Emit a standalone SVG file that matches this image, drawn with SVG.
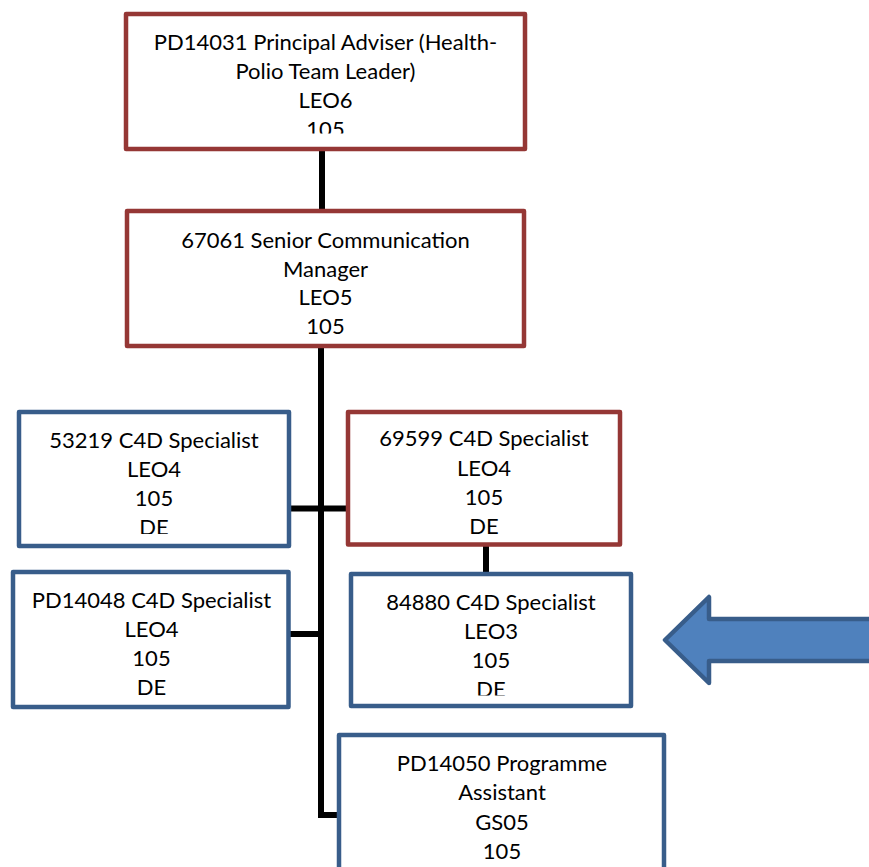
<svg xmlns="http://www.w3.org/2000/svg" width="869" height="867" viewBox="0 0 869 867">
<style>
.box{fill:#fff;stroke-width:4.5;stroke-linejoin:round}
.red{stroke:#953735}
.blue{stroke:#385D8A}
.t{font-family:Lato,"Liberation Sans",sans-serif;font-size:22px;fill:#000;text-anchor:middle}
.conn{stroke:#000;stroke-width:6;fill:none;stroke-linecap:butt}
</style>
<defs>
<clipPath id="c1"><rect x="126" y="14" width="400" height="119.5"/></clipPath>
<clipPath id="c3"><rect x="19" y="412" width="270" height="122"/></clipPath>
<clipPath id="c7"><rect x="351" y="574" width="280" height="121.5"/></clipPath>
</defs>
<rect width="869" height="867" fill="#fff"/>
<g id="connectors">
<line class="conn" x1="322" y1="149" x2="322" y2="211"/>
<polyline class="conn" points="321,346 321,815 339,815"/>
<line class="conn" x1="289" y1="508.5" x2="348" y2="508.5"/>
<line class="conn" x1="288" y1="634" x2="321" y2="634"/>
<line class="conn" x1="486" y1="544" x2="486" y2="574"/>
</g>
<g id="n1">
<rect class="box red" x="126" y="14" width="399" height="135"/>
<g clip-path="url(#c1)">
<text class="t" x="325.5" y="50">PD14031 Principal Adviser (Health-</text>
<text class="t" x="325.5" y="79">Polio Team Leader)</text>
<text class="t" x="325.5" y="108">LEO6</text>
<text class="t" x="325.5" y="137">105</text>
</g>
</g>
<g id="n2">
<rect class="box red" x="127" y="211" width="397" height="135"/>
<text class="t" x="325.5" y="248">67061 Senior Communication</text>
<text class="t" x="325.5" y="277">Manager</text>
<text class="t" x="325.5" y="305">LEO5</text>
<text class="t" x="325.5" y="334">105</text>
</g>
<g id="n3">
<rect class="box blue" x="19" y="412" width="270" height="134"/>
<g clip-path="url(#c3)">
<text class="t" x="154" y="448">53219 C4D Specialist</text>
<text class="t" x="154" y="477">LEO4</text>
<text class="t" x="154" y="506">105</text>
<text class="t" x="154" y="535">DE</text>
</g>
</g>
<g id="n4">
<rect class="box red" x="348" y="412" width="272" height="132.5"/>
<text class="t" x="484" y="446">69599 C4D Specialist</text>
<text class="t" x="484" y="476">LEO4</text>
<text class="t" x="484" y="505">105</text>
<text class="t" x="484" y="534">DE</text>
</g>
<g id="n5">
<rect class="box blue" x="13" y="572" width="275.5" height="135"/>
<text class="t" x="151.5" y="608">PD14048 C4D Specialist</text>
<text class="t" x="151.5" y="637">LEO4</text>
<text class="t" x="151.5" y="666">105</text>
<text class="t" x="151.5" y="695">DE</text>
</g>
<g id="n6">
<rect class="box blue" x="351" y="574" width="280" height="132"/>
<g clip-path="url(#c7)">
<text class="t" x="491" y="610">84880 C4D Specialist</text>
<text class="t" x="491" y="639">LEO3</text>
<text class="t" x="491" y="668">105</text>
<text class="t" x="491" y="697">DE</text>
</g>
</g>
<g id="n7">
<rect class="box blue" x="339" y="735" width="325" height="160"/>
<text class="t" x="502" y="771">PD14050 Programme</text>
<text class="t" x="502" y="800">Assistant</text>
<text class="t" x="502" y="830">GS05</text>
<text class="t" x="502" y="859">105</text>
</g>
<g id="arrow">
<path d="M665,640 L709,597 L709,619 L880,619 L880,661 L709,661 L709,683 Z" fill="#4F81BD" stroke="#385D8A" stroke-width="4.5" stroke-linejoin="round"/>
</g>
</svg>
